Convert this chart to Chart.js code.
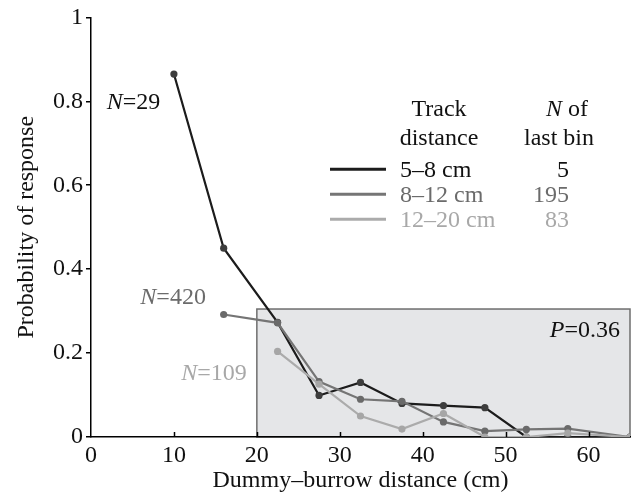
<!DOCTYPE html>
<html>
<head>
<meta charset="utf-8">
<script src="https://cdn.jsdelivr.net/npm/chart.js@4.4.1/dist/chart.umd.min.js"></script>
<style>
  html, body { margin: 0; padding: 0; background: #fff; }
  #chart { display: block; }
</style>
</head>
<body>
<canvas id="chart" width="637" height="498"></canvas>
<script>
// ---- Data ----
const seriesLabels = ['5–8 cm', '8–12 cm', '12–20 cm'];
const lastBinN = [5, 195, 83];
const firstBinN = [29, 420, 109];

const xNear = [10, 16, 22.5, 27.5, 32.5, 37.5, 42.5, 47.5, 52.5, 57.5, 65];
const yNear = [0.865, 0.45, 0.273, 0.099, 0.13, 0.08, 0.075, 0.07, 0, 0, 0];

const xMid = [16, 22.5, 27.5, 32.5, 37.5, 42.5, 47.5, 52.5, 57.5, 65];
const yMid = [0.292, 0.272, 0.132, 0.09, 0.085, 0.036, 0.014, 0.018, 0.02, 0];

const xFar = [22.5, 27.5, 32.5, 37.5, 42.5, 47.5, 52.5, 57.5, 65];
const yFar = [0.204, 0.126, 0.05, 0.019, 0.056, 0, 0, 0.009, 0];

const xTickValues = [0, 10, 20, 30, 40, 50, 60];
const yTickValues = [0, 0.2, 0.4, 0.6, 0.8, 1];

// shaded test region and its P value
const regionX = [20, 65];
const regionY = [0, 0.305];
const regionP = '0.36';

// ---- Styles ----
const FONT = "'Liberation Serif', 'Times New Roman', serif";
const lineColors = ['#1c1c1c', '#757575', '#ababab'];
const pointColors = ['#3d3d3d', '#6a6a6a', '#a6a6a6'];
const textColors = ['#111111', '#6b6b6b', '#a8a8a8'];

const toPts = (xs, ys) => xs.map((x, i) => ({ x: x, y: ys[i] }));

function makeSet(i, xs, ys) {
  return {
    label: seriesLabels[i],
    data: toPts(xs, ys),
    borderColor: lineColors[i],
    borderWidth: 2.2,
    pointRadius: 3.6,
    pointBorderWidth: 0,
    pointBackgroundColor: pointColors[i],
    tension: 0,
    fill: false,
    order: 3 - i,
  };
}

// draws "N=xxx" with italic N, right edge at x
function drawNLabel(ctx, value, right, baseline, color) {
  const rest = '=' + value;
  ctx.font = '24px ' + FONT;
  const wRest = ctx.measureText(rest).width;
  ctx.font = 'italic 24px ' + FONT;
  const wN = ctx.measureText('N').width;
  const left = right - wRest - wN;
  ctx.fillStyle = color;
  ctx.textAlign = 'left';
  ctx.textBaseline = 'alphabetic';
  ctx.fillText('N', left, baseline);
  ctx.font = '24px ' + FONT;
  ctx.fillText(rest, left + wN, baseline);
}

// shaded box behind everything
const regionPlugin = {
  id: 'region',
  beforeDraw(chart) {
    const { ctx, scales: { x, y } } = chart;
    const x0 = x.getPixelForValue(regionX[0]);
    const x1 = x.getPixelForValue(regionX[1]);
    const y0 = y.getPixelForValue(regionY[0]);
    const y1 = y.getPixelForValue(regionY[1]);
    ctx.save();
    ctx.fillStyle = '#e5e6e8';
    ctx.fillRect(x0, y1, x1 - x0, y0 - y1);
    ctx.strokeStyle = '#6e6e6e';
    ctx.lineWidth = 1.5;
    ctx.strokeRect(x0, y1, x1 - x0, y0 - y1);
    ctx.restore();
  },
  afterDraw(chart) {
    const { ctx, scales: { x, y } } = chart;
    ctx.save();
    ctx.font = 'italic 24px ' + FONT;
    const wP = ctx.measureText('P').width;
    ctx.font = '24px ' + FONT;
    const rest = '=' + regionP;
    const wRest = ctx.measureText(rest).width;
    const right = x.getPixelForValue(regionX[1]) - 10;
    const base = y.getPixelForValue(regionY[1]) + 28;
    ctx.fillStyle = '#111';
    ctx.textBaseline = 'alphabetic';
    ctx.font = 'italic 24px ' + FONT;
    ctx.fillText('P', right - wRest - wP, base);
    ctx.font = '24px ' + FONT;
    ctx.fillText(rest, right - wRest, base);
    ctx.restore();
  }
};

// x ticks point inward, drawn over the box
const innerTicks = {
  id: 'innerTicks',
  afterDatasetsDraw(chart) {
    const { ctx, scales: { x } } = chart;
    const yb = chart.chartArea.bottom;
    ctx.save();
    ctx.strokeStyle = '#000';
    ctx.lineWidth = 1.5;
    xTickValues.slice(1).forEach(v => {
      const px = Math.round(x.getPixelForValue(v)) + 0.5;
      ctx.beginPath();
      ctx.moveTo(px, yb);
      ctx.lineTo(px, yb - 5);
      ctx.stroke();
    });
    ctx.restore();
  }
};

// N labels next to the first bin and the two-column key
const notesPlugin = {
  id: 'notes',
  afterDraw(chart) {
    const { ctx } = chart;
    ctx.save();
    const offsets = [[-13.7, 35], [-17.8, -10.7], [-30.8, 29]];
    chart.data.datasets.forEach((ds, i) => {
      const pt = chart.getDatasetMeta(i).data[0];
      drawNLabel(ctx, firstBinN[i], pt.x + offsets[i][0], pt.y + offsets[i][1], textColors[i]);
    });

    // key header
    ctx.font = '24px ' + FONT;
    ctx.fillStyle = '#111';
    ctx.textBaseline = 'alphabetic';
    ctx.textAlign = 'center';
    ctx.fillText('Track', 439, 116);
    ctx.fillText('distance', 439, 145);
    ctx.fillText('last bin', 559, 145);
    ctx.textAlign = 'left';
    ctx.font = 'italic 24px ' + FONT;
    const wN = ctx.measureText('N').width;
    ctx.font = '24px ' + FONT;
    const wOf = ctx.measureText(' of').width;
    const nx = 567 - (wN + wOf) / 2;
    ctx.font = 'italic 24px ' + FONT;
    ctx.fillText('N', nx, 116);
    ctx.font = '24px ' + FONT;
    ctx.fillText(' of', nx + wN, 116);

    // key rows
    seriesLabels.forEach((lab, i) => {
      const base = 176.7 + i * 25;
      ctx.strokeStyle = lineColors[i];
      ctx.lineWidth = 3;
      ctx.beginPath();
      ctx.moveTo(330, base - 7.5);
      ctx.lineTo(386, base - 7.5);
      ctx.stroke();
      ctx.fillStyle = textColors[i];
      ctx.textAlign = 'left';
      ctx.fillText(lab, 400, base);
      ctx.textAlign = 'right';
      ctx.fillText(String(lastBinN[i]), 569, base);
    });
    ctx.restore();
  }
};

new Chart(document.getElementById('chart'), {
  type: 'line',
  data: {
    datasets: [
      makeSet(0, xNear, yNear),
      makeSet(1, xMid, yMid),
      makeSet(2, xFar, yFar),
    ]
  },
  options: {
    responsive: false,
    devicePixelRatio: 1,
    animation: false,
    layout: { padding: { top: 15, right: 7, left: 0, bottom: 0 } },
    plugins: {
      legend: { display: false },
      tooltip: { enabled: false },
    },
    scales: {
      x: {
        type: 'linear',
        min: 0,
        max: 65,
        afterBuildTicks: s => { s.ticks = xTickValues.map(v => ({ value: v })); },
        afterFit: s => { s.height = 61; },
        grid: { display: false, drawTicks: false },
        border: { display: true, color: '#000', width: 1.5 },
        ticks: {
          color: '#111',
          font: { family: FONT, size: 24 },
          padding: 4,
          maxRotation: 0,
        },
        title: {
          display: true,
          text: 'Dummy–burrow distance (cm)',
          color: '#111',
          font: { family: FONT, size: 24 },
          padding: { top: 0, bottom: 3 },
        }
      },
      y: {
        type: 'linear',
        min: 0,
        max: 1,
        afterBuildTicks: s => { s.ticks = yTickValues.map(v => ({ value: v })); },
        afterFit: s => { s.width = 91; },
        grid: {
          display: true,
          drawOnChartArea: false,
          drawTicks: true,
          tickLength: 5,
          color: '#000',
          lineWidth: 1.5,
        },
        border: { display: true, color: '#000', width: 1.5 },
        ticks: {
          color: '#111',
          font: { family: FONT, size: 24 },
          padding: 3,
          callback: v => String(Math.round(v * 10) / 10),
        },
        title: {
          display: true,
          text: 'Probability of response',
          color: '#111',
          font: { family: FONT, size: 24 },
          padding: { top: 12, bottom: 0 },
        }
      }
    }
  },
  plugins: [regionPlugin, innerTicks, notesPlugin]
});
</script>
</body>
</html>
